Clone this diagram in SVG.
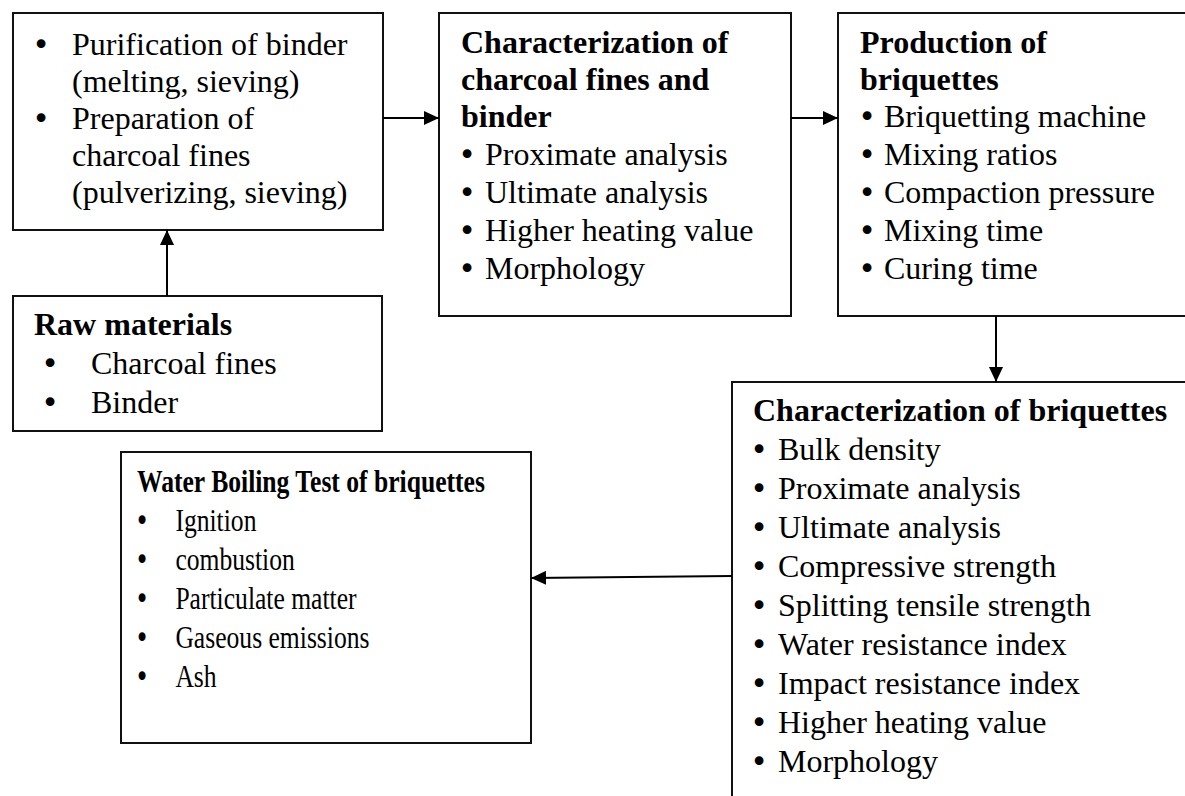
<svg xmlns="http://www.w3.org/2000/svg" width="1185" height="796" viewBox="0 0 1185 796">
<style>
.box{fill:#fff;stroke:#111;stroke-width:2}
text{font-family:"Liberation Serif","Times New Roman",serif;font-size:32px;fill:#000}
.h{font-weight:bold}
.b{text-anchor:middle;font-family:"DejaVu Sans",sans-serif;font-size:30px}
.c{stroke:#000;stroke-width:2;fill:none}
</style>
<defs>
<marker id="ah" markerUnits="userSpaceOnUse" markerWidth="16" markerHeight="14" refX="15" refY="7" orient="auto">
<path d="M0,0 L15,7 L0,14 z" fill="#000"/>
</marker>
</defs>
<rect width="1185" height="796" fill="#fff"/>

<g id="prep">
<rect class="box" x="13" y="13" width="370" height="217"/>
<text><tspan class="b" x="41" y="55">•</tspan><tspan x="72" y="55">Purification of binder</tspan></text>
<text x="72" y="92">(melting, sieving)</text>
<text><tspan class="b" x="41" y="129">•</tspan><tspan x="72" y="129">Preparation of</tspan></text>
<text x="72" y="166">charcoal fines</text>
<text x="72" y="203">(pulverizing, sieving)</text>
</g>

<g id="raw">
<rect class="box" x="13" y="296" width="369" height="135"/>
<text class="h" x="34" y="335">Raw materials</text>
<text><tspan class="b" x="50" y="374">•</tspan><tspan x="91" y="374">Charcoal fines</tspan></text>
<text><tspan class="b" x="50" y="413">•</tspan><tspan x="91" y="413">Binder</tspan></text>
</g>

<g id="charfines">
<rect class="box" x="439" y="13" width="352" height="303"/>
<text class="h" x="461" y="53">Characterization of</text>
<text class="h" x="461" y="90">charcoal fines and</text>
<text class="h" x="461" y="127">binder</text>
<text><tspan class="b" x="467" y="165">•</tspan><tspan x="485" y="165">Proximate analysis</tspan></text>
<text><tspan class="b" x="467" y="203">•</tspan><tspan x="485" y="203">Ultimate analysis</tspan></text>
<text><tspan class="b" x="467" y="241">•</tspan><tspan x="485" y="241">Higher heating value</tspan></text>
<text><tspan class="b" x="467" y="279">•</tspan><tspan x="485" y="279">Morphology</tspan></text>
</g>

<g id="production">
<rect class="box" x="838" y="13" width="360" height="303"/>
<text class="h" x="860" y="53">Production of</text>
<text class="h" x="860" y="90">briquettes</text>
<text><tspan class="b" x="867" y="127">•</tspan><tspan x="884" y="127">Briquetting machine</tspan></text>
<text><tspan class="b" x="867" y="165">•</tspan><tspan x="884" y="165">Mixing ratios</tspan></text>
<text><tspan class="b" x="867" y="203">•</tspan><tspan x="884" y="203">Compaction pressure</tspan></text>
<text><tspan class="b" x="867" y="241">•</tspan><tspan x="884" y="241">Mixing time</tspan></text>
<text><tspan class="b" x="867" y="279">•</tspan><tspan x="884" y="279">Curing time</tspan></text>
</g>

<g id="charbriq">
<rect class="box" x="732" y="382" width="470" height="430"/>
<text class="h" x="753" y="421">Characterization of briquettes</text>
<text><tspan class="b" x="759" y="460">•</tspan><tspan x="778" y="460">Bulk density</tspan></text>
<text><tspan class="b" x="759" y="499">•</tspan><tspan x="778" y="499">Proximate analysis</tspan></text>
<text><tspan class="b" x="759" y="538">•</tspan><tspan x="778" y="538">Ultimate analysis</tspan></text>
<text><tspan class="b" x="759" y="577">•</tspan><tspan x="778" y="577">Compressive strength</tspan></text>
<text><tspan class="b" x="759" y="616">•</tspan><tspan x="778" y="616">Splitting tensile strength</tspan></text>
<text><tspan class="b" x="759" y="655">•</tspan><tspan x="778" y="655">Water resistance index</tspan></text>
<text><tspan class="b" x="759" y="694">•</tspan><tspan x="778" y="694">Impact resistance index</tspan></text>
<text><tspan class="b" x="759" y="733">•</tspan><tspan x="778" y="733">Higher heating value</tspan></text>
<text><tspan class="b" x="759" y="772">•</tspan><tspan x="778" y="772">Morphology</tspan></text>
</g>

<g id="wbt">
<rect class="box" x="121" y="452" width="410" height="291"/>
<g transform="translate(137,0) scale(0.8,1)">
<text class="h" x="0" y="492">Water Boiling Test of briquettes</text>
<text><tspan class="b" x="6.5" y="531">•</tspan><tspan x="48" y="531">Ignition</tspan></text>
<text><tspan class="b" x="6.5" y="570">•</tspan><tspan x="48" y="570">combustion</tspan></text>
<text><tspan class="b" x="6.5" y="609">•</tspan><tspan x="48" y="609">Particulate matter</tspan></text>
<text><tspan class="b" x="6.5" y="648">•</tspan><tspan x="48" y="648">Gaseous emissions</tspan></text>
<text><tspan class="b" x="6.5" y="687">•</tspan><tspan x="48" y="687">Ash</tspan></text>
</g>
</g>

<g id="connectors">
<line class="c" x1="167" y1="296" x2="167" y2="230" marker-end="url(#ah)"/>
<line class="c" x1="383" y1="118" x2="439" y2="118" marker-end="url(#ah)"/>
<line class="c" x1="791" y1="118" x2="838" y2="118" marker-end="url(#ah)"/>
<line class="c" x1="996" y1="316" x2="996" y2="382" marker-end="url(#ah)"/>
<line class="c" x1="732" y1="576" x2="531" y2="578" marker-end="url(#ah)"/>
</g>
</svg>
